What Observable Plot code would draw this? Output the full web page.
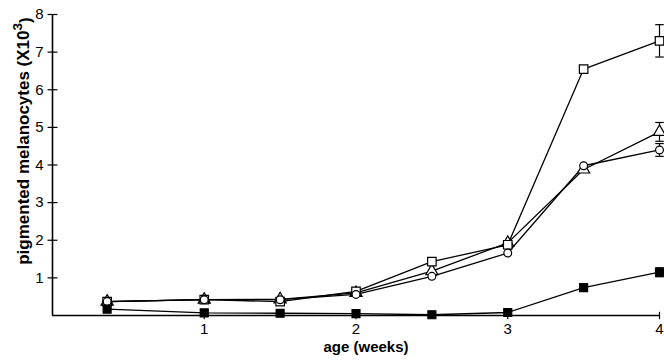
<!DOCTYPE html>
<html><head><meta charset="utf-8">
<script src="https://cdn.jsdelivr.net/npm/d3@7"></script>
<script src="https://cdn.jsdelivr.net/npm/@observablehq/plot@0.6"></script>
<style>body{margin:0;background:#fff} svg{display:block}</style>
</head><body><div id="chart"></div>
<script>
// ---- data ----
const weeks = [0.36, 1, 1.5, 2, 2.5, 3, 3.5, 4];
const openSquare   = [0.37, 0.42, 0.37, 0.64, 1.43, 1.88, 6.55, 7.30];
const openCircle   = [0.37, 0.42, 0.42, 0.56, 1.04, 1.66, 3.98, 4.40];
const openTriangle = [0.37, 0.42, 0.43, 0.60, 1.18, 1.93, 3.88, 4.88];
const filledSquare = [0.17, 0.07, 0.06, 0.05, 0.02, 0.08, 0.74, 1.15];
// error (± SE) at 4 weeks
const errWeek = 4;
const errors = {openSquare: 0.43, openCircle: 0.17, openTriangle: 0.25, filledSquare: 0.12};
const xTicks = [1, 2, 3, 4];
const yTicks = [1, 2, 3, 4, 5, 6, 7, 8];
const xLabel = "age (weeks)";
const yLabel = "pigmented melanocytes (X10³)";

const seriesDefs = [
  {name: "openTriangle", values: openTriangle, symbol: "triangle", fill: "white", r: 4.5},
  {name: "openSquare", values: openSquare, symbol: "square", fill: "white", r: 4.8},
  {name: "openCircle", values: openCircle, symbol: "circle", fill: "white", r: 3.9},
  {name: "filledSquare", values: filledSquare, symbol: "square", fill: "black", r: 4.5}
];
const rows = seriesDefs.flatMap(s => weeks.map((w, i) => ({series: s.name, week: w, value: s.values[i]})));
const errRows = seriesDefs.map(s => {
  const v = s.values[weeks.indexOf(errWeek)];
  return {series: s.name, week: errWeek, value: v, lo: v - errors[s.name], hi: v + errors[s.name]};
});

const hLine = {draw(ctx, size) { const w = Math.sqrt(size) / 2; ctx.moveTo(-w, 0); ctx.lineTo(w, 0); }};
const vLine = {draw(ctx, size) { const w = Math.sqrt(size) / 2; ctx.moveTo(0, -w); ctx.lineTo(0, w); }};

const marks = [
  // axes lines
  Plot.ruleX([0], {y1: 0, y2: 8, stroke: "black", strokeWidth: 1.6}),
  Plot.ruleY([0], {x1: 0, x2: 4, stroke: "black", strokeWidth: 1.6}),
  // crossing ticks
  Plot.dot(yTicks, {x: 0, y: d => d, symbol: hLine, r: 5.6, stroke: "black", strokeWidth: 1.2, fill: "none"}),
  Plot.dot(xTicks, {x: d => d, y: 0, symbol: vLine, r: 4.2, stroke: "black", strokeWidth: 1.2, fill: "none"}),
  // tick labels
  Plot.text(yTicks, {x: 0, y: d => d, text: d => String(d), textAnchor: "end", dx: -9, fontSize: 15}),
  Plot.text(xTicks, {x: d => d, y: 0, text: d => String(d), dy: 14, fontSize: 15}),
  // axis labels
  Plot.text([xLabel], {frameAnchor: "bottom", text: d => d, dx: 10, dy: 36, fontSize: 15, fontWeight: "bold"}),
  Plot.text([yLabel], {frameAnchor: "left", text: d => d, rotate: -90, fontSize: 17, fontWeight: "bold"}),
  // lines
  Plot.line(rows, {x: "week", y: "value", z: "series", stroke: "black", strokeWidth: 1.3}),
  // error bars
  Plot.ruleX(errRows, {x: "week", y1: "lo", y2: "hi", stroke: "black", strokeWidth: 1.2}),
  Plot.dot(errRows, {x: "week", y: "lo", symbol: hLine, r: 4.8, stroke: "black", strokeWidth: 1.2, fill: "none"}),
  Plot.dot(errRows, {x: "week", y: "hi", symbol: hLine, r: 4.8, stroke: "black", strokeWidth: 1.2, fill: "none"}),
  // markers
  ...seriesDefs.map(s => Plot.dot(rows.filter(d => d.series === s.name), {
    x: "week", y: "value", symbol: s.symbol, r: s.r, fill: s.fill, stroke: "black", strokeWidth: 1.2
  }))
];

const chart = Plot.plot({
  width: 664,
  height: 360,
  marginLeft: 52,
  marginRight: 5,
  marginTop: 14,
  marginBottom: 45,
  x: {domain: [0, 4], axis: null},
  y: {domain: [0, 8], axis: null},
  style: {fontFamily: "'Liberation Sans', Arial, Helvetica, sans-serif", color: "black", background: "white"},
  marks
});

// place the rotated y label and render its superscript as real text
d3.select(chart).selectAll("text").filter(function() { return this.textContent === yLabel; }).each(function() {
  const t = d3.select(this);
  if (this.parentNode && this.parentNode.removeAttribute) this.parentNode.removeAttribute("transform");
  t.attr("dx", null).attr("dy", null).attr("x", null).attr("y", null)
   .attr("text-anchor", "middle")
   .attr("transform", "translate(29,141) rotate(-90)");
  t.text(null);
  t.append("tspan").text("pigmented melanocytes (X10");
  t.append("tspan").attr("dy", "-0.5em").attr("font-size", "0.8em").text("3");
  t.append("tspan").attr("dy", "0.5em").text(")");
});

document.getElementById("chart").appendChild(chart);
</script>
</body></html>
